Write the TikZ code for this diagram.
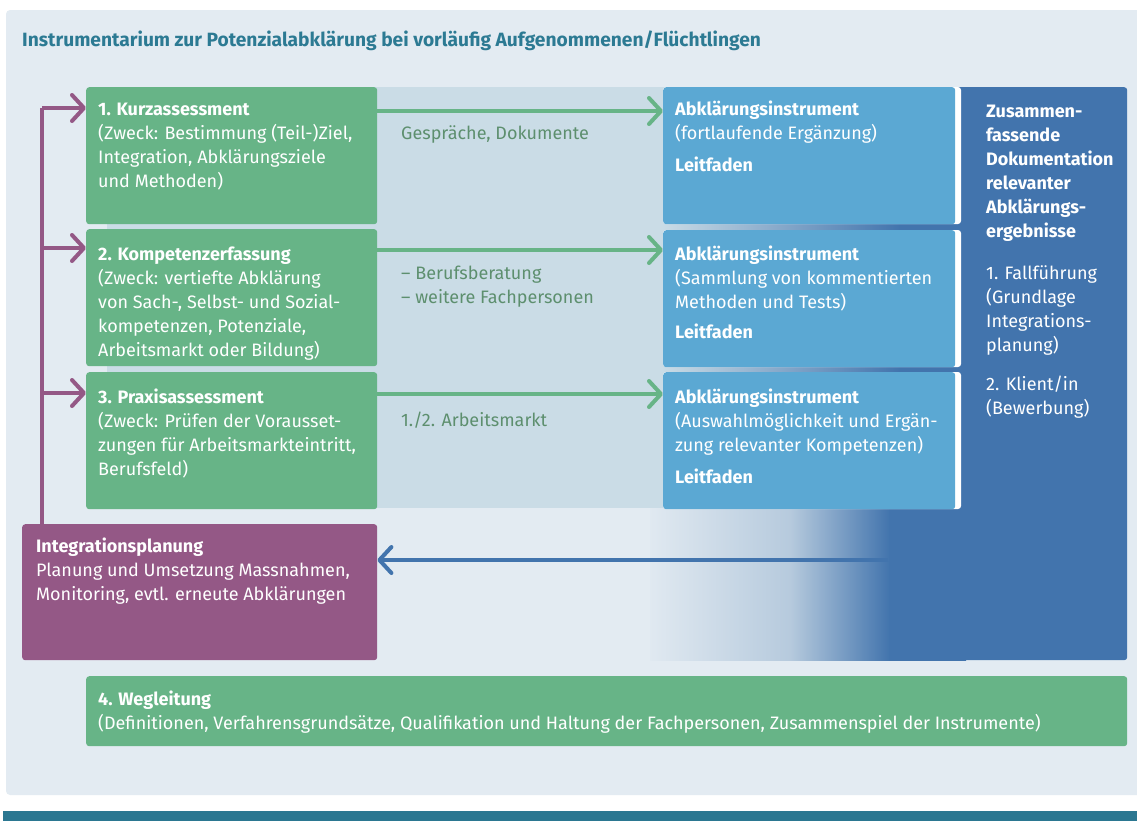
\documentclass[tikz,border=0pt]{standalone}
\usepackage{fontspec}
\setmainfont{Fira Sans}
\usetikzlibrary{arrows.meta}
\definecolor{panel}{HTML}{E3EBF2}
\definecolor{band}{HTML}{CADCE6}
\definecolor{gbox}{HTML}{67B487}
\definecolor{bbox}{HTML}{5BA8D3}
\definecolor{dblue}{HTML}{4274AD}
\definecolor{midblue}{HTML}{B6CADD}
\definecolor{purp}{HTML}{945886}
\definecolor{glabel}{HTML}{5D8F6E}
\definecolor{ttl}{HTML}{2C7A93}
\definecolor{bar}{HTML}{2B7791}
\tikzset{
  boxshape/.style={rounded corners=3pt, draw=none, inner sep=0pt, anchor=north west},
  greenbox/.style={boxshape, fill=gbox},
  bluebox/.style={boxshape, fill=bbox},
  txt/.style={anchor=base west, inner sep=0pt, text=white, font=\fontsize{18}{24}\selectfont},
  lbl/.style={anchor=base west, inner sep=0pt, text=glabel, font=\fontsize{18}{24}\selectfont},
  garrow/.style={draw=gbox, line width=4pt, -{Straight Barb[length=12pt,width=26pt,round]}},
  parrow/.style={draw=purp, line width=4pt, -{Straight Barb[length=12pt,width=26pt,round]}},
  barrow/.style={draw=dblue, line width=4pt, -{Straight Barb[length=12pt,width=26pt,round]}},
}
\newcommand\lns[2]{\parbox[t]{#1}{\raggedright #2}}
\begin{document}
\begin{tikzpicture}[x=1pt,y=-1pt]
\useasboundingbox (0,0) rectangle (1137,820);
% panel and bottom bar
\fill[panel, rounded corners=4pt] (6,10) rectangle (1150,795);
\fill[bar] (3,811) rectangle (1150,830);
% title
\node[anchor=base west, inner sep=0pt, text=ttl, font=\fontsize{19.2}{22}\selectfont\bfseries] (title) at (22,46)
  {Instrumentarium zur Potenzialabklärung bei vorläufig Aufgenommenen/Flüchtlingen};
% background band
\fill[band] (107,87) rectangle (663,508);
\shade[left color=band, right color=dblue] (662,87) rectangle (900,508);
\fill[dblue] (899,87) rectangle (965,508);
% right column
\node[boxshape, fill=dblue, minimum width=169pt, minimum height=573pt] (doc) at (958,87) {};
% lower gradient
\begin{scope}
\clip (650,508) rectangle (966,660);
\shade[left color=panel, right color=midblue] (640,500) rectangle (791,670);
\shade[left color=midblue, right color=dblue] (790,500) rectangle (890,670);
\fill[dblue] (889,500) rectangle (970,670);
\end{scope}
% green boxes
\node[greenbox, minimum width=291pt, minimum height=137pt] (g1) at (86,87) {};
\node[greenbox, minimum width=291pt, minimum height=137pt] (g2) at (86,229) {};
\node[greenbox, minimum width=291pt, minimum height=137pt] (g3) at (86,372) {};
% blue boxes with white edge
\foreach \y/\n in {87/1,230/2,372/3}{
  \fill[white, rounded corners=3pt] (663,\y) rectangle (961,\y+137);
}
\node[bluebox, minimum width=292pt, minimum height=137pt] (b1) at (663,87) {};
\node[bluebox, minimum width=292pt, minimum height=137pt] (b2) at (663,230) {};
\node[bluebox, minimum width=292pt, minimum height=137pt] (b3) at (663,372) {};
% purple box
\node[boxshape, fill=purp, minimum width=355pt, minimum height=136pt] (plan) at (22,524) {};
% Wegleitung
\node[greenbox, minimum width=1041pt, minimum height=70pt] (weg) at (86,676) {};
% texts green
\node[txt] (t1) at (98,115) {\lns{278pt}{\textbf{1. Kurzassessment}\\(Zweck: Bestimmung (Teil-)Ziel,\\Integration, Abklärungsziele\\und Methoden)}};
\node[txt] (t2) at (98,260) {\lns{278pt}{\textbf{2. Kompetenzerfassung}\\(Zweck: vertiefte Abklärung\\von Sach-, Selbst- und Sozial-\\kompetenzen, Potenziale,\\Arbeitsmarkt oder Bildung)}};
\node[txt] (t3) at (98,403) {\lns{278pt}{\textbf{3. Praxisassessment}\\(Zweck: Prüfen der Vorausset-\\zungen für Arbeitsmarkteintritt,\\Berufsfeld)}};
% texts blue
\node[txt] (u1) at (675,115) {\lns{285pt}{\textbf{Abklärungsinstrument}\\(fortlaufende Ergänzung)\\[8pt]\textbf{Leitfaden}}};
\node[txt] (u2) at (675,260) {\lns{285pt}{\textbf{Abklärungsinstrument}\\(Sammlung von kommentierten\\Methoden und Tests)\\[6pt]\textbf{Leitfaden}}};
\node[txt] (u3) at (675,403) {\lns{285pt}{\textbf{Abklärungsinstrument}\\(Auswahlmöglichkeit und Ergän-\\zung relevanter Kompetenzen)\\[8pt]\textbf{Leitfaden}}};
% right column text
\node[txt] (dt) at (986,117) {\lns{145pt}{\textbf{Zusammen-}\\\textbf{fassende}\\\textbf{Dokumentation}\\\textbf{relevanter}\\\textbf{Abklärungs-}\\\textbf{ergebnisse}\\[18pt]1. Fallführung\\(Grundlage\\Integrations-\\planung)\\[15pt]2. Klient/in\\(Bewerbung)}};
% purple text
\node[txt] (pt) at (36,552) {\lns{340pt}{\textbf{Integrationsplanung}\\Planung und Umsetzung Massnahmen,\\Monitoring, evtl. erneute Abklärungen}};
% Wegleitung text
\node[txt] (wt) at (98,705) {\lns{1025pt}{\textbf{4. Wegleitung}\\(Definitionen, Verfahrensgrundsätze, Qualifikation und Haltung der Fachpersonen, Zusammenspiel der Instrumente)}};
% labels
\node[lbl] (l1) at (401,139) {Gespräche, Dokumente};
\node[lbl] (l2) at (401,279) {\lns{250pt}{– Berufsberatung\\– weitere Fachpersonen}};
\node[lbl] (l3) at (401,426) {1./2. Arbeitsmarkt};
% green arrows
\draw[garrow] ([yshift=-24pt]g1.north east) -- ([yshift=-24pt]b1.north west);
\draw[garrow] ([yshift=-21pt]g2.north east) -- ([yshift=-20pt]b2.north west);
\draw[garrow] ([yshift=-22pt]g3.north east) -- ([yshift=-22pt]b3.north west);
% purple arrows
\coordinate (pj) at (42,108);
\draw[draw=purp, line width=4pt] (plan.north -| pj) -- (pj);
\draw[parrow] (pj) -- ([yshift=-21pt]g1.north west);
\draw[parrow] (pj |- 0,248) -- ([yshift=-19pt]g2.north west);
\draw[parrow] (pj |- 0,393) -- ([yshift=-21pt]g3.north west);
% blue arrow
\coordinate (bs) at (888,560);
\draw[barrow] (bs) -- (plan.east |- bs);
\end{tikzpicture}
\end{document}
